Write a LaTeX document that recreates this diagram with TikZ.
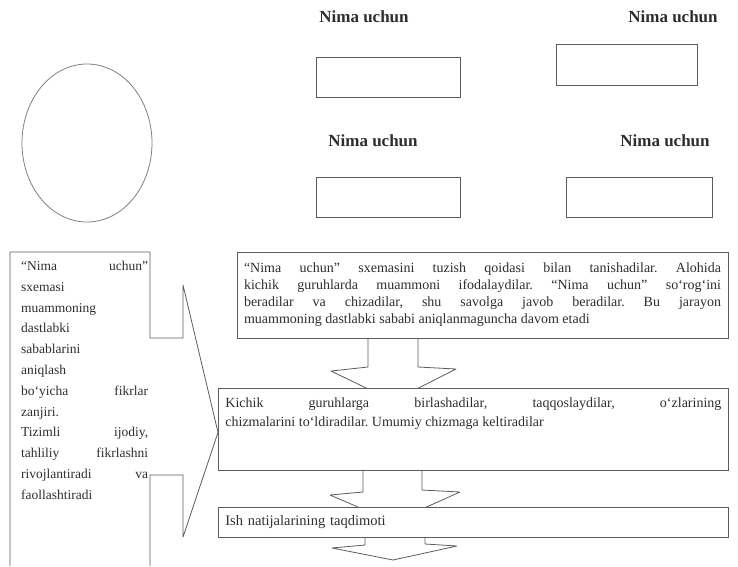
\documentclass[tikz,border=0pt]{standalone}
\usepackage{fontspec}
\setmainfont{Liberation Serif}
\usepackage{tikz}
\usetikzlibrary{shapes.geometric,positioning}
\definecolor{scan}{HTML}{5C5C5C}
\definecolor{ink}{HTML}{2E2E2E}
\tikzstyle{line} = [draw=scan, line width=0.8pt, line join=round]
\tikzstyle{blank} = [rectangle, draw=scan, line width=0.8pt, minimum width=144pt, minimum height=40pt]
\tikzstyle{title} = [font=\fontsize{17}{20}\selectfont\bfseries, text=ink, inner sep=0pt]
\tikzstyle{process} = [rectangle, draw=scan, fill=white, line width=0.8pt, text=ink, inner xsep=7pt, inner ysep=0pt]

\begin{document}
\begin{tikzpicture}[x=1pt, y=-1pt]
\useasboundingbox (0,0) rectangle (738,566);
% Place nodes
\node [ellipse, draw=gray, line width=0.8pt, minimum width=130pt, minimum height=158pt] (root) at (87,143) {};
\node [blank] (why1) at (388,77.5) {};
\node [blank, minimum width=141pt, minimum height=41pt] (why2) at (626.5,64.5) {};
\node [blank] (why3) at (388,197) {};
\node [blank, minimum width=146pt] (why4) at (639,197.5) {};
\node [title] (lbl1) at (364,17) {Nima uchun};
\node [title] (lbl2) at (673,17) {Nima uchun};
\node [title] (lbl3) at (373,141) {Nima uchun};
\node [title] (lbl4) at (665,141) {Nima uchun};
\node [process, text width=477pt, minimum height=86pt, align=justify, font=\fontsize{14}{17}\selectfont\frenchspacing] (stepA) at (482.5,295)
  {“Nima uchun” sxemasini tuzish qoidasi bilan tanishadilar. Alohida\linebreak
   kichik guruhlarda muammoni ifodalaydilar. “Nima uchun” so‘rog‘ini\linebreak
   beradilar va chizadilar, shu savolga javob beradilar. Bu jarayon\linebreak
   muammoning dastlabki sababi aniqlanmaguncha davom etadi};
% Draw block arrows
\path [line] (368,338) -- (368,367) -- (331,371) -- (393,401) -- (456,369) -- (418,367) -- (418,338);
\node [process, anchor=north west, inner ysep=9pt, font=\fontsize{14}{19}\selectfont\frenchspacing] (stepB) at (218,388)
  {\parbox[t][64pt][t]{496pt}{Kichik guruhlarga birlashadilar, taqqoslaydilar, o‘zlarining\linebreak
   chizmalarini to‘ldiradilar. Umumiy chizmaga keltiradilar}};
\path [line] (363,470) -- (363,492) -- (330,495) -- (393,522) -- (460,492) -- (422,490) -- (422,470);
\node [process, anchor=north west, text width=496pt, minimum height=30pt, align=left, font=\fontsize{14.5}{19}\selectfont] (stepC) at (218,507)
  {Ish natijalarining taqdimoti};
\path [line] (365,537) -- (365,545) -- (332,548) -- (393,560) -- (457,546) -- (425,544) -- (425,537);
% Side note
\node [anchor=north west, text width=127pt, align=justify, inner sep=0pt, text=ink, font=\fontsize{13.5}{20.8}\selectfont] (note) at (21,261)
  {“Nima uchun”\linebreak sxemasi\\ muammoning\\ dastlabki\\ sabablarini\\ aniqlash\\
   bo‘yicha fikrlar\linebreak zanjiri.\\ Tizimli ijodiy,\linebreak tahliliy fikrlashni\linebreak
   rivojlantiradi va\linebreak faollashtiradi};
\path [line] (10,566) -- (10,252) -- (150,252) -- (150,338) -- (183,338) -- (183,285)
  -- ([yshift=-3pt]stepB.west) -- (183,537) -- (183,475) -- (150,475) -- (150,566);
\end{tikzpicture}
\end{document}
